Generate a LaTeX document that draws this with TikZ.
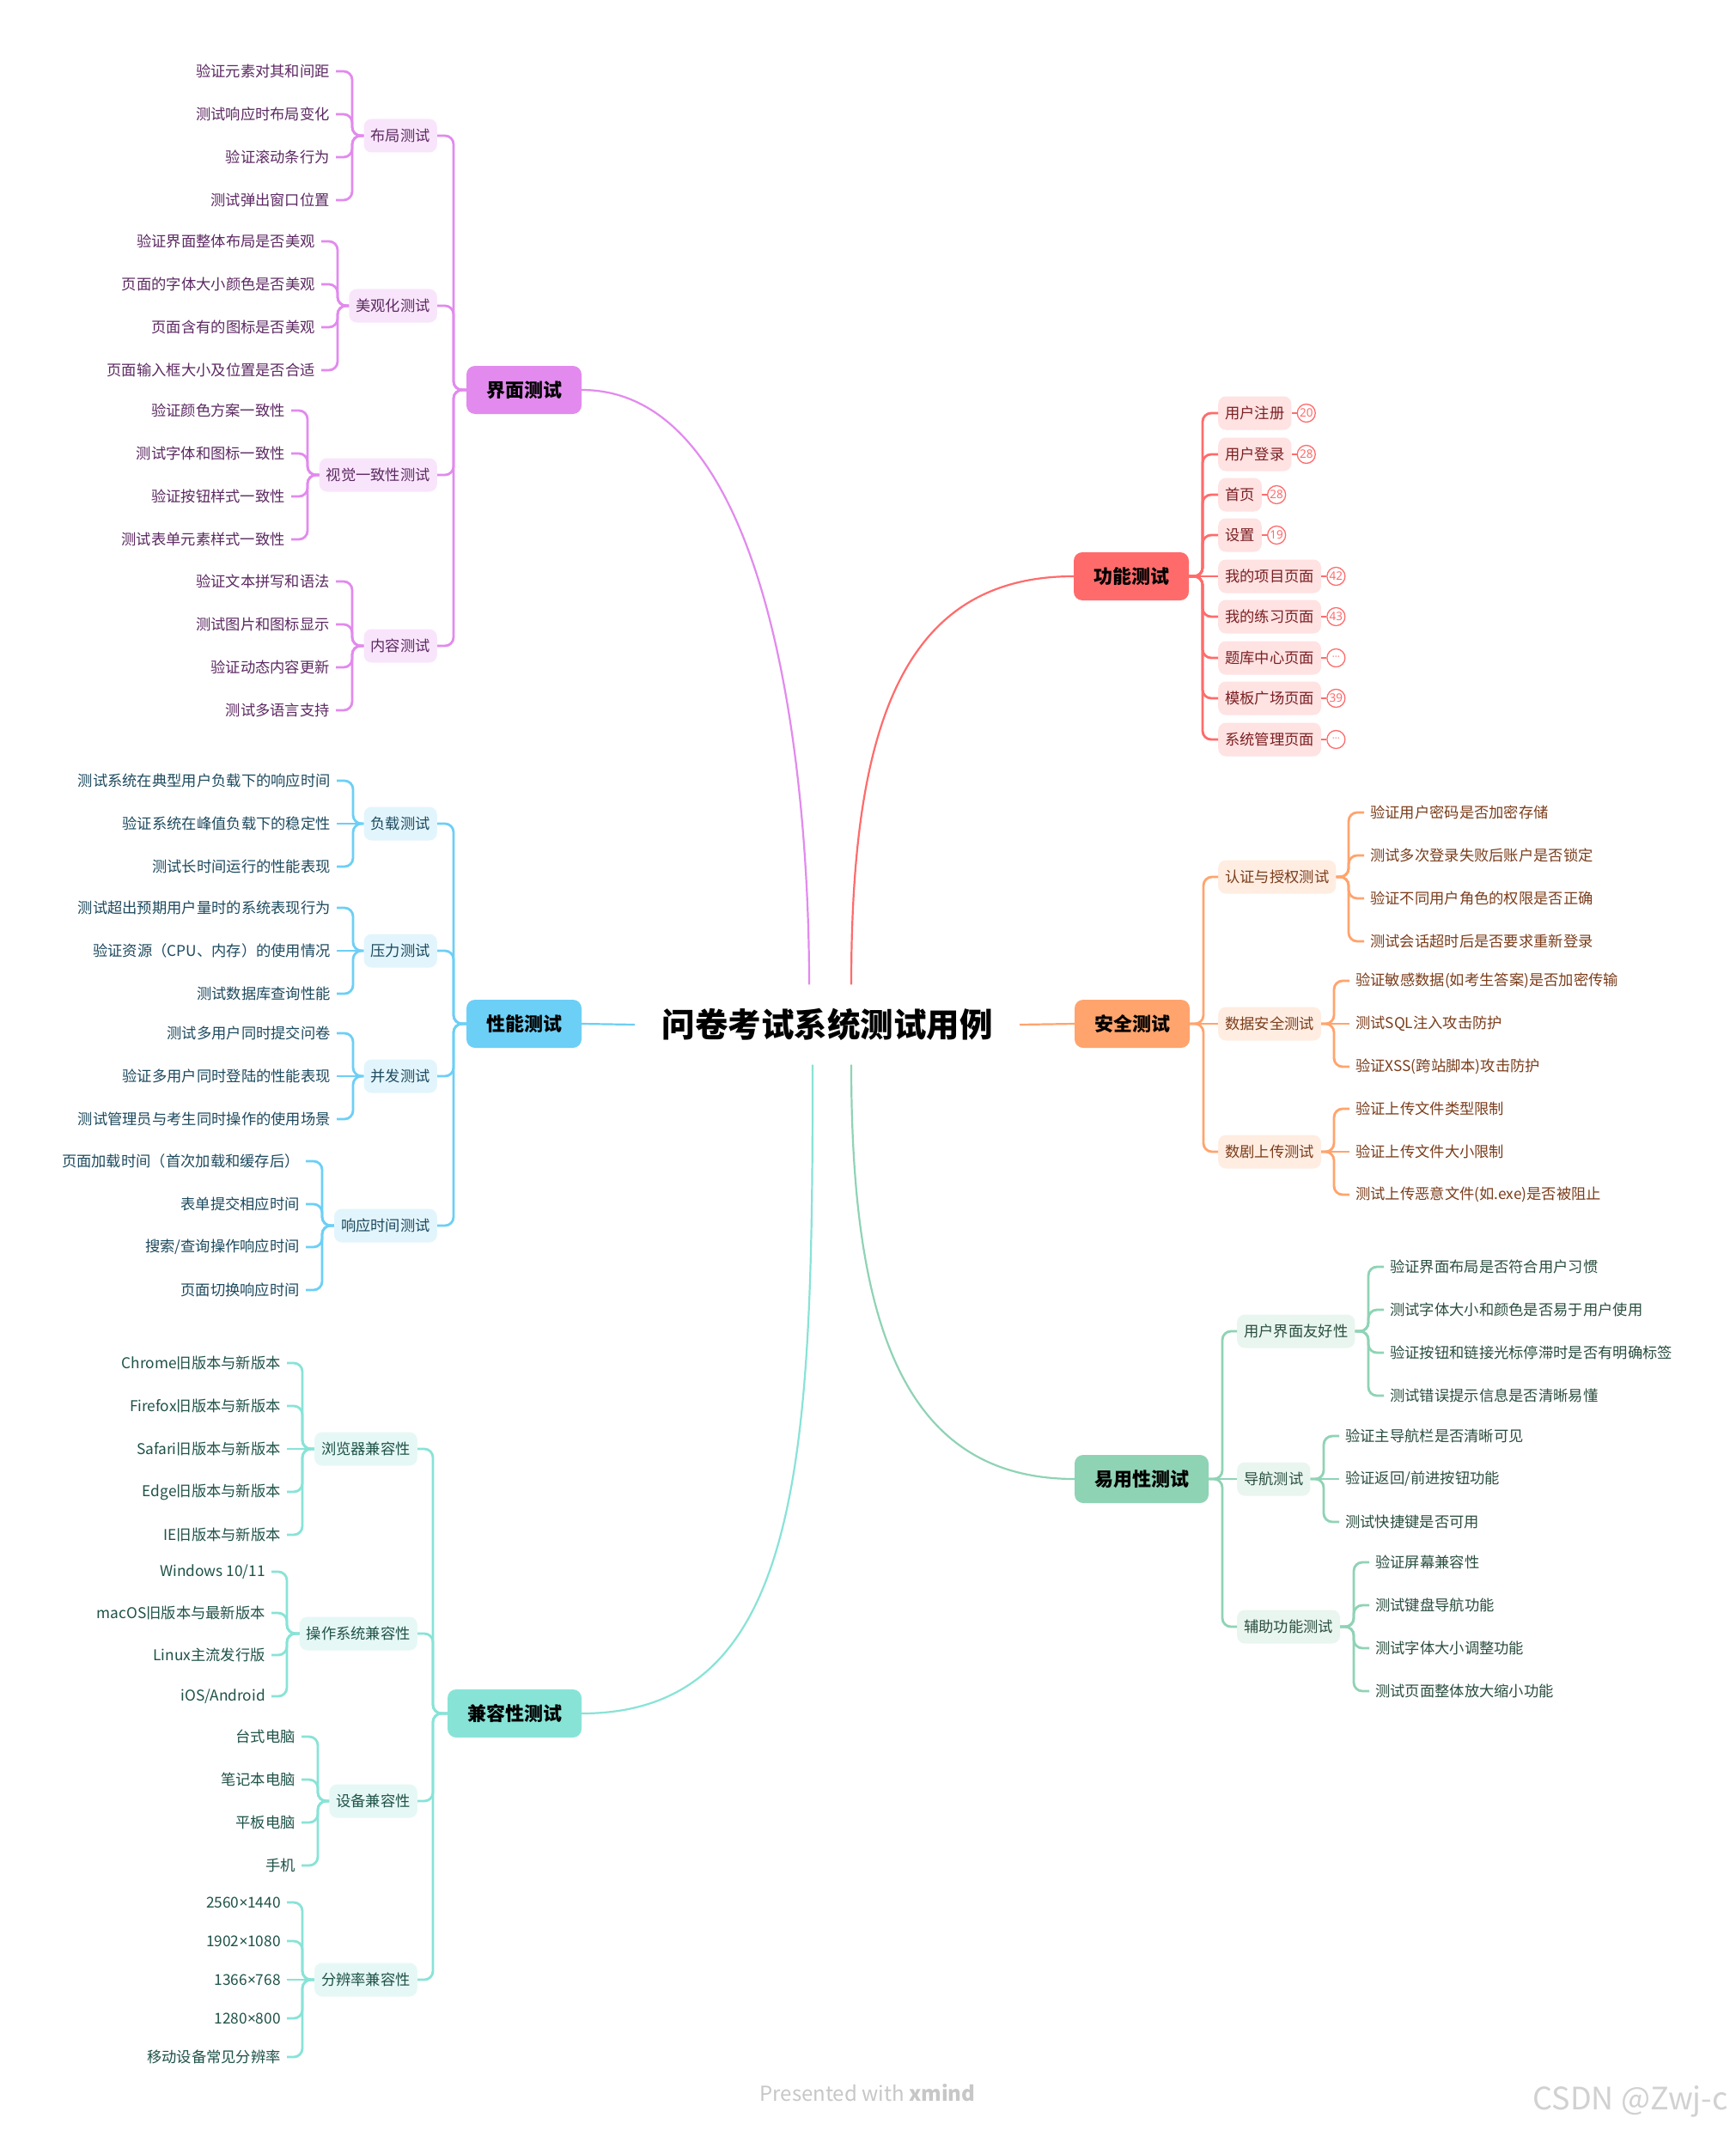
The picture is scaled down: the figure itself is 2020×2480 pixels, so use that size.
\documentclass[tikz,border=0pt]{standalone}
\usepackage{fontspec}
\setmainfont{Noto Sans CJK SC}
\newfontfamily\latinfont{Noto Sans}
\usepackage{tikz}
\usetikzlibrary{positioning,calc}
\definecolor{MapPurple}{HTML}{E28AEE}
\definecolor{PurpleSoft}{HTML}{F9E5FB}
\definecolor{PurpleInk}{HTML}{5C2962}
\definecolor{MapBlue}{HTML}{6CCFF6}
\definecolor{BlueSoft}{HTML}{E2F5FD}
\definecolor{BlueInk}{HTML}{1D4A5E}
\definecolor{MapTeal}{HTML}{88E3D7}
\definecolor{TealSoft}{HTML}{E6F8F5}
\definecolor{TealInk}{HTML}{1E5248}
\definecolor{MapRed}{HTML}{FF6B6B}
\definecolor{RedSoft}{HTML}{FFE2E2}
\definecolor{RedInk}{HTML}{7A1F22}
\definecolor{MapOrange}{HTML}{FFA46D}
\definecolor{OrangeSoft}{HTML}{FFEDE2}
\definecolor{OrangeInk}{HTML}{7B3D1B}
\definecolor{MapGreen}{HTML}{8FD3B5}
\definecolor{GreenSoft}{HTML}{E9F6EF}
\definecolor{GreenInk}{HTML}{2A4E3F}

\begin{document}
\begin{tikzpicture}[x=1pt, y=-1pt, every node/.style={font=\fontsize{17.3}{20}\selectfont}]
\tikzstyle{topic}=[rounded corners=10pt, minimum height=56pt, inner xsep=23pt, text=black, font=\fontsize{22}{24}\selectfont\bfseries]
\tikzstyle{subtopic}=[rounded corners=9pt, minimum height=39pt, inner xsep=8pt]
\tikzstyle{leafnode}=[inner xsep=7pt, inner ysep=2pt]
\tikzstyle{elbow}=[line width=2.8pt, rounded corners=10pt]
\tikzstyle{branchcurve}=[line width=2.2pt]
\tikzstyle{badge}=[circle, draw=MapRed, line width=1.3pt, fill=white, text=MapRed, minimum size=21pt, inner sep=0pt, font=\latinfont\fontsize{13.5}{14}\selectfont]
\tikzstyle{uisub}=[subtopic, fill=PurpleSoft, text=PurpleInk, anchor=east]
\tikzstyle{uileaf}=[leafnode, text=PurpleInk, anchor=east]
\tikzstyle{uilink}=[elbow, draw=MapPurple]
\tikzstyle{perfsub}=[subtopic, fill=BlueSoft, text=BlueInk, anchor=east]
\tikzstyle{perfleaf}=[leafnode, text=BlueInk, anchor=east]
\tikzstyle{perflink}=[elbow, draw=MapBlue]
\tikzstyle{compsub}=[subtopic, fill=TealSoft, text=TealInk, anchor=east]
\tikzstyle{compleaf}=[leafnode, text=TealInk, anchor=east]
\tikzstyle{complink}=[elbow, draw=MapTeal]
\tikzstyle{fnsub}=[subtopic, fill=RedSoft, text=RedInk, anchor=west]
\tikzstyle{fnlink}=[elbow, draw=MapRed]
\tikzstyle{secsub}=[subtopic, fill=OrangeSoft, text=OrangeInk, anchor=west]
\tikzstyle{secleaf}=[leafnode, text=OrangeInk, anchor=west]
\tikzstyle{seclink}=[elbow, draw=MapOrange]
\tikzstyle{usesub}=[subtopic, fill=GreenSoft, text=GreenInk, anchor=west]
\tikzstyle{useleaf}=[leafnode, text=GreenInk, anchor=west]
\tikzstyle{uselink}=[elbow, draw=MapGreen]

\fill[white] (0,0) rectangle (2020,2480);
\useasboundingbox (0,0) rectangle (2020,2480);

\node[minimum width=448pt, minimum height=93pt, font=\fontsize{38.5}{42}\selectfont\bfseries] (root) at (963,1193) {问卷考试系统测试用例};

\node[topic, fill=MapPurple] (ui) at (610,454) {界面测试};
\node[topic, fill=MapBlue] (perf) at (610,1192) {性能测试};
\node[topic, fill=MapTeal] (comp) at (599,1995) {兼容性测试};
\node[topic, fill=MapRed] (fn) at (1317,671) {功能测试};
\node[topic, fill=MapOrange] (sec) at (1318,1192) {安全测试};
\node[topic, fill=MapGreen] (use) at (1329,1722) {易用性测试};

\draw[branchcurve, draw=MapPurple] ([xshift=-21pt]root.north) .. controls +(0,-250) and +(220,0) .. (ui.east);
\draw[branchcurve, draw=MapRed] ([xshift=28pt]root.north) .. controls +(0,-300) and +(-200,0) .. (fn.west);
\draw[branchcurve, draw=MapTeal] ([xshift=-17pt]root.south) .. controls +(0,450) and +(260,0) .. (comp.east);
\draw[branchcurve, draw=MapGreen] ([xshift=28pt]root.south) .. controls +(0,300) and +(-200,0) .. (use.west);
\draw[branchcurve, draw=MapBlue] (perf.east) -- (root.west);
\draw[branchcurve, draw=MapOrange] (root.east) -- (sec.west);

\node[uisub] (layout) at (509,158) {布局测试};
\node[uisub] (look) at (509,356) {美观化测试};
\node[uisub] (vis) at (509,553) {视觉一致性测试};
\node[uisub] (cont) at (509,752) {内容测试};
\draw[uilink] (layout.east) -- ++(19,0) |- (ui.west);
\draw[uilink] (look.east) -- ++(19,0) |- (ui.west);
\draw[uilink] (vis.east) -- ++(19,0) |- (ui.west);
\draw[uilink] (cont.east) -- ++(19,0) |- (ui.west);
\node[uileaf] (lay1) at (391,83) {验证元素对其和间距};
\node[uileaf] (lay2) at (391,133) {测试响应时布局变化};
\node[uileaf] (lay3) at (391,183) {验证滚动条行为};
\node[uileaf] (lay4) at (391,233) {测试弹出窗口位置};
\draw[uilink] (lay1.east) -- ++(19,0) |- (layout.west);
\draw[uilink] (lay2.east) -- ++(19,0) |- (layout.west);
\draw[uilink] (lay3.east) -- ++(19,0) |- (layout.west);
\draw[uilink] (lay4.east) -- ++(19,0) |- (layout.west);
\node[uileaf] (look1) at (374,281) {验证界面整体布局是否美观};
\node[uileaf] (look2) at (374,331) {页面的字体大小颜色是否美观};
\node[uileaf] (look3) at (374,381) {页面含有的图标是否美观};
\node[uileaf] (look4) at (374,431) {页面输入框大小及位置是否合适};
\draw[uilink] (look1.east) -- ++(19,0) |- (look.west);
\draw[uilink] (look2.east) -- ++(19,0) |- (look.west);
\draw[uilink] (look3.east) -- ++(19,0) |- (look.west);
\draw[uilink] (look4.east) -- ++(19,0) |- (look.west);
\node[uileaf] (vis1) at (339,478) {验证颜色方案一致性};
\node[uileaf] (vis2) at (339,528) {测试字体和图标一致性};
\node[uileaf] (vis3) at (339,578) {验证按钮样式一致性};
\node[uileaf] (vis4) at (339,628) {测试表单元素样式一致性};
\draw[uilink] (vis1.east) -- ++(19,0) |- (vis.west);
\draw[uilink] (vis2.east) -- ++(19,0) |- (vis.west);
\draw[uilink] (vis3.east) -- ++(19,0) |- (vis.west);
\draw[uilink] (vis4.east) -- ++(19,0) |- (vis.west);
\node[uileaf] (cont1) at (391,677) {验证文本拼写和语法};
\node[uileaf] (cont2) at (391,727) {测试图片和图标显示};
\node[uileaf] (cont3) at (391,777) {验证动态内容更新};
\node[uileaf] (cont4) at (391,827) {测试多语言支持};
\draw[uilink] (cont1.east) -- ++(19,0) |- (cont.west);
\draw[uilink] (cont2.east) -- ++(19,0) |- (cont.west);
\draw[uilink] (cont3.east) -- ++(19,0) |- (cont.west);
\draw[uilink] (cont4.east) -- ++(19,0) |- (cont.west);

\node[perfsub] (load) at (509,959) {负载测试};
\node[perfsub] (stress) at (509,1107) {压力测试};
\node[perfsub] (conc) at (509,1253) {并发测试};
\node[perfsub] (resp) at (509,1427) {响应时间测试};
\draw[perflink] (load.east) -- ++(19,0) |- (perf.west);
\draw[perflink] (stress.east) -- ++(19,0) |- (perf.west);
\draw[perflink] (conc.east) -- ++(19,0) |- (perf.west);
\draw[perflink] (resp.east) -- ++(19,0) |- (perf.west);
\node[perfleaf] (load1) at (392,909) {测试系统在典型用户负载下的响应时间};
\node[perfleaf] (load2) at (392,959) {验证系统在峰值负载下的稳定性};
\node[perfleaf] (load3) at (392,1009) {测试长时间运行的性能表现};
\draw[perflink] (load1.east) -- ++(19,0) |- (load.west);
\draw[perflink] (load2.east) -- (load.west);
\draw[perflink] (load3.east) -- ++(19,0) |- (load.west);
\node[perfleaf] (stress1) at (392,1057) {测试超出预期用户量时的系统表现行为};
\node[perfleaf] (stress2) at (392,1107) {验证资源（CPU、内存）的使用情况};
\node[perfleaf] (stress3) at (392,1157) {测试数据库查询性能};
\draw[perflink] (stress1.east) -- ++(19,0) |- (stress.west);
\draw[perflink] (stress2.east) -- (stress.west);
\draw[perflink] (stress3.east) -- ++(19,0) |- (stress.west);
\node[perfleaf] (conc1) at (392,1203) {测试多用户同时提交问卷};
\node[perfleaf] (conc2) at (392,1253) {验证多用户同时登陆的性能表现};
\node[perfleaf] (conc3) at (392,1303) {测试管理员与考生同时操作的使用场景};
\draw[perflink] (conc1.east) -- ++(19,0) |- (conc.west);
\draw[perflink] (conc2.east) -- (conc.west);
\draw[perflink] (conc3.east) -- ++(19,0) |- (conc.west);
\node[perfleaf] (resp1) at (356,1352) {页面加载时间（首次加载和缓存后）};
\node[perfleaf] (resp2) at (356,1402) {表单提交相应时间};
\node[perfleaf] (resp3) at (356,1452) {搜索/查询操作响应时间};
\node[perfleaf] (resp4) at (356,1502) {页面切换响应时间};
\draw[perflink] (resp1.east) -- ++(19,0) |- (resp.west);
\draw[perflink] (resp2.east) -- ++(19,0) |- (resp.west);
\draw[perflink] (resp3.east) -- ++(19,0) |- (resp.west);
\draw[perflink] (resp4.east) -- ++(19,0) |- (resp.west);

\node[compsub] (browser) at (486,1687) {浏览器兼容性};
\node[compsub] (os) at (486,1902) {操作系统兼容性};
\node[compsub] (device) at (486,2097) {设备兼容性};
\node[compsub] (res) at (486,2305) {分辨率兼容性};
\draw[complink] (browser.east) -- ++(18,0) |- (comp.west);
\draw[complink] (os.east) -- ++(18,0) |- (comp.west);
\draw[complink] (device.east) -- ++(18,0) |- (comp.west);
\draw[complink] (res.east) -- ++(18,0) |- (comp.west);
\node[compleaf] (br1) at (334,1587) {Chrome旧版本与新版本};
\node[compleaf] (br2) at (334,1637) {Firefox旧版本与新版本};
\node[compleaf] (br3) at (334,1687) {Safari旧版本与新版本};
\node[compleaf] (br4) at (334,1737) {Edge旧版本与新版本};
\node[compleaf] (br5) at (334,1787) {IE旧版本与新版本};
\draw[complink] (br1.east) -- ++(18,0) |- (browser.west);
\draw[complink] (br2.east) -- ++(18,0) |- (browser.west);
\draw[complink] (br3.east) -- (browser.west);
\draw[complink] (br4.east) -- ++(18,0) |- (browser.west);
\draw[complink] (br5.east) -- ++(18,0) |- (browser.west);
\node[compleaf] (os1) at (316,1830) {Windows 10/11};
\node[compleaf] (os2) at (316,1878) {macOS旧版本与最新版本};
\node[compleaf] (os3) at (316,1927) {Linux主流发行版};
\node[compleaf] (os4) at (316,1975) {iOS/Android};
\draw[complink] (os1.east) -- ++(18,0) |- (os.west);
\draw[complink] (os2.east) -- ++(18,0) |- (os.west);
\draw[complink] (os3.east) -- ++(18,0) |- (os.west);
\draw[complink] (os4.east) -- ++(18,0) |- (os.west);
\node[compleaf] (dev1) at (351,2022) {台式电脑};
\node[compleaf] (dev2) at (351,2072) {笔记本电脑};
\node[compleaf] (dev3) at (351,2122) {平板电脑};
\node[compleaf] (dev4) at (351,2172) {手机};
\draw[complink] (dev1.east) -- ++(19,0) |- (device.west);
\draw[complink] (dev2.east) -- ++(19,0) |- (device.west);
\draw[complink] (dev3.east) -- ++(19,0) |- (device.west);
\draw[complink] (dev4.east) -- ++(19,0) |- (device.west);
\node[compleaf] (res1) at (334,2215) {2560{\latinfont ×}1440};
\node[compleaf] (res2) at (334,2260) {1902{\latinfont ×}1080};
\node[compleaf] (res3) at (334,2305) {1366{\latinfont ×}768};
\node[compleaf] (res4) at (334,2350) {1280{\latinfont ×}800};
\node[compleaf] (res5) at (334,2395) {移动设备常见分辨率};
\draw[complink] (res1.east) -- ++(18,0) |- (res.west);
\draw[complink] (res2.east) -- ++(18,0) |- (res.west);
\draw[complink] (res3.east) -- (res.west);
\draw[complink] (res4.east) -- ++(18,0) |- (res.west);
\draw[complink] (res5.east) -- ++(18,0) |- (res.west);

\node[fnsub] (f1) at (1418,481) {用户注册};
\node[fnsub] (f2) at (1418,529) {用户登录};
\node[fnsub] (f3) at (1418,576) {首页};
\node[fnsub] (f4) at (1418,623) {设置};
\node[fnsub] (f5) at (1418,671) {我的项目页面};
\node[fnsub] (f6) at (1418,718) {我的练习页面};
\node[fnsub] (f7) at (1418,766) {题库中心页面};
\node[fnsub] (f8) at (1418,813) {模板广场页面};
\node[fnsub] (f9) at (1418,861) {系统管理页面};
\draw[fnlink] (f1.west) -- ++(-18,0) |- (fn.east);
\draw[fnlink] (f2.west) -- ++(-18,0) |- (fn.east);
\draw[fnlink] (f3.west) -- ++(-18,0) |- (fn.east);
\draw[fnlink] (f4.west) -- ++(-18,0) |- (fn.east);
\draw[fnlink] (fn.east) -- (f5.west);
\draw[fnlink] (f6.west) -- ++(-18,0) |- (fn.east);
\draw[fnlink] (f7.west) -- ++(-18,0) |- (fn.east);
\draw[fnlink] (f8.west) -- ++(-18,0) |- (fn.east);
\draw[fnlink] (f9.west) -- ++(-18,0) |- (fn.east);
\node[badge, right=6pt of f1] (b1) {20};
\node[badge, right=6pt of f2] (b2) {28};
\node[badge, right=6pt of f3] (b3) {28};
\node[badge, right=6pt of f4] (b4) {19};
\node[badge, right=6pt of f5] (b5) {42};
\node[badge, right=6pt of f6] (b6) {43};
\node[badge, right=6pt of f7, font=\latinfont\fontsize{11}{11}\selectfont] (b7) {···};
\node[badge, right=6pt of f8] (b8) {39};
\node[badge, right=6pt of f9, font=\latinfont\fontsize{11}{11}\selectfont] (b9) {···};
\draw[MapRed, line width=1.5pt] (f1.east) -- (b1.west);
\draw[MapRed, line width=1.5pt] (f2.east) -- (b2.west);
\draw[MapRed, line width=1.5pt] (f3.east) -- (b3.west);
\draw[MapRed, line width=1.5pt] (f4.east) -- (b4.west);
\draw[MapRed, line width=1.5pt] (f5.east) -- (b5.west);
\draw[MapRed, line width=1.5pt] (f6.east) -- (b6.west);
\draw[MapRed, line width=1.5pt] (f7.east) -- (b7.west);
\draw[MapRed, line width=1.5pt] (f8.east) -- (b8.west);
\draw[MapRed, line width=1.5pt] (f9.east) -- (b9.west);

\node[secsub] (auth) at (1418,1021) {认证与授权测试};
\node[secsub] (data) at (1418,1192) {数据安全测试};
\node[secsub] (upload) at (1418,1341) {数剧上传测试};
\draw[seclink] (auth.west) -- ++(-17,0) |- (sec.east);
\draw[seclink] (sec.east) -- (data.west);
\draw[seclink] (upload.west) -- ++(-17,0) |- (sec.east);
\node[secleaf] (auth1) at (1588,946) {验证用户密码是否加密存储};
\node[secleaf] (auth2) at (1588,996) {测试多次登录失败后账户是否锁定};
\node[secleaf] (auth3) at (1588,1046) {验证不同用户角色的权限是否正确};
\node[secleaf] (auth4) at (1588,1096) {测试会话超时后是否要求重新登录};
\draw[seclink] (auth1.west) -- ++(-18,0) |- (auth.east);
\draw[seclink] (auth2.west) -- ++(-18,0) |- (auth.east);
\draw[seclink] (auth3.west) -- ++(-18,0) |- (auth.east);
\draw[seclink] (auth4.west) -- ++(-18,0) |- (auth.east);
\node[secleaf] (data1) at (1571,1142) {验证敏感数据(如考生答案)是否加密传输};
\node[secleaf] (data2) at (1571,1192) {测试SQL注入攻击防护};
\node[secleaf] (data3) at (1571,1242) {验证XSS(跨站脚本)攻击防护};
\draw[seclink] (data1.west) -- ++(-18,0) |- (data.east);
\draw[seclink] (data.east) -- (data2.west);
\draw[seclink] (data3.west) -- ++(-18,0) |- (data.east);
\node[secleaf] (up1) at (1571,1291) {验证上传文件类型限制};
\node[secleaf] (up2) at (1571,1341) {验证上传文件大小限制};
\node[secleaf] (up3) at (1571,1391) {测试上传恶意文件(如.exe)是否被阻止};
\draw[seclink] (up1.west) -- ++(-18,0) |- (upload.east);
\draw[seclink] (upload.east) -- (up2.west);
\draw[seclink] (up3.west) -- ++(-18,0) |- (upload.east);

\node[usesub] (uif) at (1440,1550) {用户界面友好性};
\node[usesub] (nav) at (1440,1722) {导航测试};
\node[usesub] (assist) at (1440,1894) {辅助功能测试};
\draw[uselink] (uif.west) -- ++(-17,0) |- (use.east);
\draw[uselink] (use.east) -- (nav.west);
\draw[uselink] (assist.west) -- ++(-17,0) |- (use.east);
\node[useleaf] (uif1) at (1611,1475) {验证界面布局是否符合用户习惯};
\node[useleaf] (uif2) at (1611,1525) {测试字体大小和颜色是否易于用户使用};
\node[useleaf] (uif3) at (1611,1575) {验证按钮和链接光标停滞时是否有明确标签};
\node[useleaf] (uif4) at (1611,1625) {测试错误提示信息是否清晰易懂};
\draw[uselink] (uif1.west) -- ++(-18,0) |- (uif.east);
\draw[uselink] (uif2.west) -- ++(-18,0) |- (uif.east);
\draw[uselink] (uif3.west) -- ++(-18,0) |- (uif.east);
\draw[uselink] (uif4.west) -- ++(-18,0) |- (uif.east);
\node[useleaf] (nav1) at (1559,1672) {验证主导航栏是否清晰可见};
\node[useleaf] (nav2) at (1559,1722) {验证返回/前进按钮功能};
\node[useleaf] (nav3) at (1559,1772) {测试快捷键是否可用};
\draw[uselink] (nav1.west) -- ++(-18,0) |- (nav.east);
\draw[uselink] (nav.east) -- (nav2.west);
\draw[uselink] (nav3.west) -- ++(-18,0) |- (nav.east);
\node[useleaf] (as1) at (1594,1819) {验证屏幕兼容性};
\node[useleaf] (as2) at (1594,1869) {测试键盘导航功能};
\node[useleaf] (as3) at (1594,1919) {测试字体大小调整功能};
\node[useleaf] (as4) at (1594,1969) {测试页面整体放大缩小功能};
\draw[uselink] (as1.west) -- ++(-18,0) |- (assist.east);
\draw[uselink] (as2.west) -- ++(-18,0) |- (assist.east);
\draw[uselink] (as3.west) -- ++(-18,0) |- (assist.east);
\draw[uselink] (as4.west) -- ++(-18,0) |- (assist.east);

\node[text=black!22, font=\fontsize{24}{26}\selectfont] (brand) at (1010,2437) {Presented with \textbf{xmind}};
\node[text=black!18, font=\fontsize{36}{40}\selectfont] (csdn) at (1898,2447) {CSDN @Zwj-c};
\end{tikzpicture}
\end{document}
